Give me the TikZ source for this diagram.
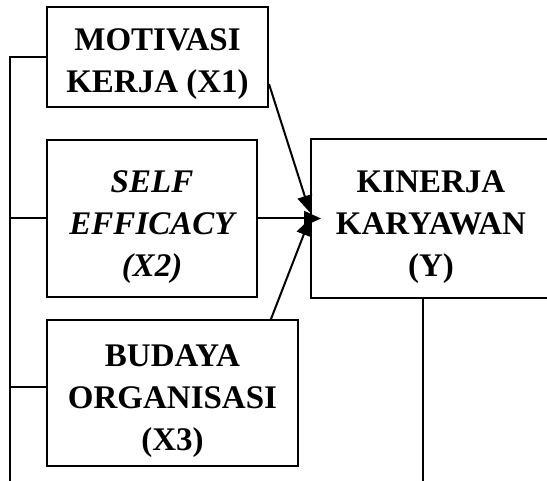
\documentclass[tikz,border=0pt]{standalone}
\usepackage{fontspec}
\setmainfont{Liberation Serif}
\usetikzlibrary{arrows.meta,calc,positioning}

\begin{document}
\begin{tikzpicture}[x=1pt, y=-1pt, >={Triangle[length=17pt,width=15pt]},
  varbox/.style={draw, line width=2pt, inner sep=0pt},
  vartext/.style={align=center, inner sep=0pt,
    font=\fontsize{33}{42}\selectfont\bfseries},
  link/.style={line width=2pt}]
  \useasboundingbox (0,0) rectangle (547,481);
  \clip (0,0) rectangle (547,481);

  \node[varbox, minimum width=221pt, minimum height=100pt] (x1) at (157.5,57) {};
  \node[varbox, minimum width=210pt, minimum height=157pt] (x2) at (152,218.5) {};
  \node[varbox, minimum width=251pt, minimum height=146pt] (x3) at (172.5,393) {};
  \node[varbox, minimum width=240pt, minimum height=159pt] (y) at (431,218.5) {};

  \node[vartext] (x1txt) at ($(x1)+(0,7)$) {MOTIVASI\\KERJA (X1)};
  \node[vartext] (x2txt) at ($(x2)+(0,9)$) {\itshape SELF\\\itshape EFFICACY\\\itshape (X2)};
  \node[vartext] (x3txt) at ($(x3)+(0,8)$) {BUDAYA\\ORGANISASI\\(X3)};
  \node[vartext] (ytxt) at ($(y)+(0,9)$) {KINERJA\\KARYAWAN\\(Y)};

  \draw[link, ->] ($(x1.south east)+(0,-24)$) -- ($(y.west)+(0,-6)$);
  \draw[link, ->, shorten >=-11pt] (x2.east) -- (y.west);
  \draw[link, ->] ($(x3.north east)+(-28,0)$) -- ($(y.west)+(0,0)$);

  \coordinate (lb) at (10,481);
  \draw[link] (x1.west) -| (lb);
  \draw[link] (x2.west) -- (x2.west -| lb);
  \draw[link] ($(x3.west)+(0,-6)$) -- ($(x3.west -| lb)+(0,-6)$);
  \draw[link] (y.south -| 423,0) -- (423,481);
\end{tikzpicture}
\end{document}
